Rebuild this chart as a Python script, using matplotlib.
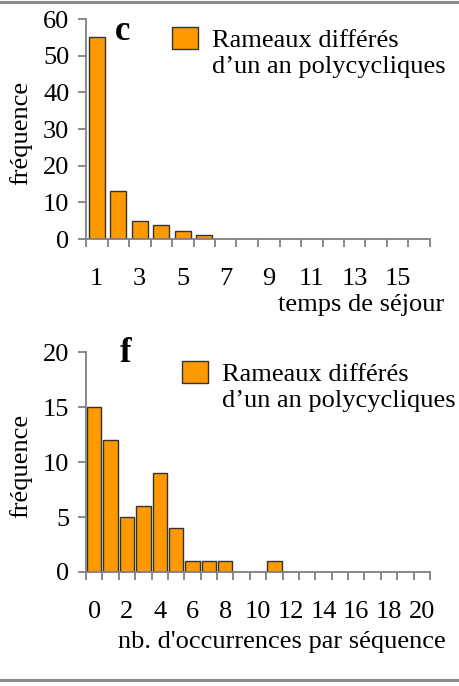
import matplotlib
matplotlib.use("Agg")
import matplotlib.pyplot as plt
from matplotlib.lines import Line2D
from matplotlib.patches import Patch

plt.rcParams['font.family'] = ['Liberation Serif', 'DejaVu Serif']

# top panel (c): temps de séjour
sejour_cats = list(range(1, 17))
sejour_vals = [55, 13, 4.9, 3.7, 2.2, 1.1, 0, 0, 0, 0, 0, 0, 0, 0, 0, 0]
sejour_ticks = [1, 3, 5, 7, 9, 11, 13, 15]

# bottom panel (f): nb. d'occurrences par séquence
occ_cats = list(range(0, 21))
occ_vals = [15, 12, 5, 6, 9, 4, 1, 1, 1, 0, 0, 1, 0, 0, 0, 0, 0, 0, 0, 0, 0]
occ_ticks = [0, 2, 4, 6, 8, 10, 12, 14, 16, 18, 20]

legend_lines = ["Rameaux différés", "d’un an polycycliques"]
orange = '#FF9900'
grey = '#808080'
W, H = 459, 686
fs = 19

fig = plt.figure(figsize=(W / 100, H / 100), dpi=100)


def px(x0, y0, x1, y1):
    # pixel box (top-left origin) -> figure fraction rect
    return [x0 / W, 1 - y1 / H, (x1 - x0) / W, (y1 - y0) / H]


def panel(rect, cats, vals, ticks, ymax, ystep, width, letter, letter_xy, leg_xy, xlabel, xlabel_xy):
    ax = fig.add_axes(rect)
    ax.bar(cats, vals, width=width, color=orange, edgecolor='#333333', linewidth=1.0)
    ax.set_xlim(cats[0] - 0.5, cats[-1] + 0.5)
    ax.set_ylim(0, ymax)
    ax.set_yticks(range(0, ymax + 1, ystep))
    ax.set_xticks(ticks)
    ax.set_xticks([c - 0.5 for c in cats] + [cats[-1] + 0.5], minor=True)
    ax.tick_params(axis='x', which='major', length=0, pad=21, labelsize=fs)
    ax.tick_params(axis='x', which='minor', length=6, width=1.3, color=grey, direction='out')
    ax.tick_params(axis='y', length=6, width=1.3, color=grey, pad=6, labelsize=fs)
    for s in ('top', 'right'):
        ax.spines[s].set_visible(False)
    for s in ('left', 'bottom'):
        ax.spines[s].set_color(grey)
        ax.spines[s].set_linewidth(1.3)
    ax.set_ylabel("fréquence", fontsize=fs)
    ax.yaxis.set_label_coords(-0.157, 0.48)
    fig.text(letter_xy[0] / W, 1 - letter_xy[1] / H, letter, fontsize=25,
             fontweight='bold', ha='center', va='center')
    # square sits beside the first line only
    handles = [Patch(facecolor=orange, edgecolor='#333333', linewidth=1.0),
               Patch(facecolor='none', edgecolor='none')]
    ax.legend(handles=handles, labels=legend_lines, loc='upper left', frameon=False,
              bbox_to_anchor=(leg_xy[0] / W, 1 - leg_xy[1] / H),
              bbox_transform=fig.transFigure, fontsize=fs, handlelength=1.0,
              handleheight=0.9, handletextpad=0.5, borderpad=0, borderaxespad=0,
              labelspacing=0.05)
    fig.text(xlabel_xy[0] / W, 1 - xlabel_xy[1] / H, xlabel, fontsize=fs,
             ha='right', va='center')
    return ax


ax1 = panel(px(86, 19, 430, 239), sejour_cats, sejour_vals, sejour_ticks, 60, 10, 0.75,
            'c', (123, 31), (172, 27), "temps de séjour", (444, 305))

ax2 = panel(px(86, 352, 430, 572), occ_cats, occ_vals, occ_ticks, 20, 5, 0.88,
            'f', (126, 354), (182, 361), "nb. d'occurrences par séquence", (446, 642))

# grey rules at top and bottom of the figure
for y in (1.5, 679.5):
    fig.add_artist(Line2D([0, 1], [1 - y / H, 1 - y / H], color='#8c8c8c',
                          linewidth=2.2, transform=fig.transFigure))

fig.savefig("out.png", dpi=100)
